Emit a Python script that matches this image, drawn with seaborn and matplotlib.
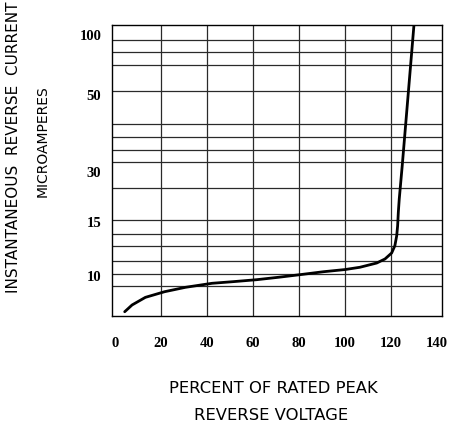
import numpy as np
import matplotlib
matplotlib.use("Agg")
import matplotlib.pyplot as plt
import seaborn as sns

# ---- data ----
voltage_pct = [4.2, 7.4, 13.2, 21.6, 30.6, 42.2, 51.4, 61.6, 71.0, 80.4, 90.6, 100.0,
               106.5, 113.8, 117.4, 120.3, 121.7, 122.5, 122.9, 123.2, 123.6, 124.9, 130.0]
current_ua = [6.63, 7.25, 7.95, 8.47, 8.87, 9.24, 9.39, 9.57, 9.79, 10.03, 10.30, 10.50,
              10.71, 11.10, 11.47, 12.02, 12.69, 13.61, 14.52, 17.5, 21.5, 31.4, 107]

x_ticks = [0, 20, 40, 60, 80, 100, 120, 140]
y_ticks = [10, 15, 30, 50, 100]
y_grid = [94.6, 84.5, 74.0, 52.7, 42.2, 38.9, 35.5, 32.3, 24.8, 15.2,
          13.73, 12.63, 11.31, 10.06, 8.99]

xlabel_lines = ["PERCENT OF RATED PEAK", "REVERSE VOLTAGE"]
ylabel_lines = ["INSTANTANEOUS  REVERSE  CURRENT", "MICROAMPERES"]

# ---- non-uniform printed scale of the original chart (value -> position) ----
SCALE_V = np.array([10.0, 15.0, 30.0, 50.0, 100.0])
SCALE_P = np.array([40.7, 95.2, 144.7, 221.7, 282.2])


def _pw(v, a, b):
    v = np.asarray(v, dtype=float)
    out = np.interp(v, a, b)
    s0 = (b[1] - b[0]) / (a[1] - a[0])
    s1 = (b[-1] - b[-2]) / (a[-1] - a[-2])
    out = np.where(v < a[0], b[0] + (v - a[0]) * s0, out)
    out = np.where(v > a[-1], b[-1] + (v - a[-1]) * s1, out)
    return out


def fwd(v):
    return _pw(v, SCALE_V, SCALE_P)


def inv(p):
    return _pw(p, SCALE_P, SCALE_V)


sns.set_style("white")
plt.rcParams["font.family"] = ["DejaVu Sans"]
plt.rcParams["text.color"] = "black"

fig = plt.figure(figsize=(4.57, 4.27), dpi=100)
ax = fig.add_axes([0.2457, 0.2583, 0.9672 - 0.2457, 0.9391 - 0.2583])
ax.set_yscale("function", functions=(fwd, inv))

for gy in y_grid:
    ax.axhline(gy, color="#2a2a2a", lw=0.9, zorder=1)
for gx in x_ticks[1:-1]:
    ax.axvline(gx, color="#2a2a2a", lw=0.9, zorder=1)

sns.lineplot(x=voltage_pct, y=current_ua, ax=ax, color="black", lw=2.0,
             sort=False, zorder=3)
for ln in ax.lines[-1:]:
    ln.set_solid_joinstyle("round")
    ln.set_solid_capstyle("round")

ax.set_xlim(-1.2, 142.2)
ax.set_ylim(float(inv(0.0)), float(inv(290.7)))
ax.set_xticks(x_ticks)
ax.set_xticklabels([str(t) for t in x_ticks])
ax.set_yticks(y_ticks)
ax.set_yticklabels([str(t) for t in y_ticks])
ax.minorticks_off()
ax.set_xlabel("")
ax.set_ylabel("")

for lab in ax.get_xticklabels() + ax.get_yticklabels():
    lab.set_fontfamily("Liberation Serif")
    lab.set_fontweight("bold")
    lab.set_fontsize(10.5)
    lab.set_color("black")
ax.tick_params(axis="x", length=0, pad=14.5)
ax.tick_params(axis="y", length=0, pad=8)

for sp in ax.spines.values():
    sp.set_visible(True)
    sp.set_color("black")
    sp.set_linewidth(1.0)

fig.text(0.598, 0.0913, xlabel_lines[0], ha="center", va="center", fontsize=11.8, color="black")
fig.text(0.593, 0.028, xlabel_lines[1], ha="center", va="center", fontsize=11.8, color="black")
fig.text(0.029, 0.656, ylabel_lines[0], ha="center", va="center", rotation=90, fontsize=11, color="black")
fig.text(0.094, 0.670, ylabel_lines[1], ha="center", va="center", rotation=90, fontsize=10, color="black")

fig.savefig("out.png", dpi=100)
